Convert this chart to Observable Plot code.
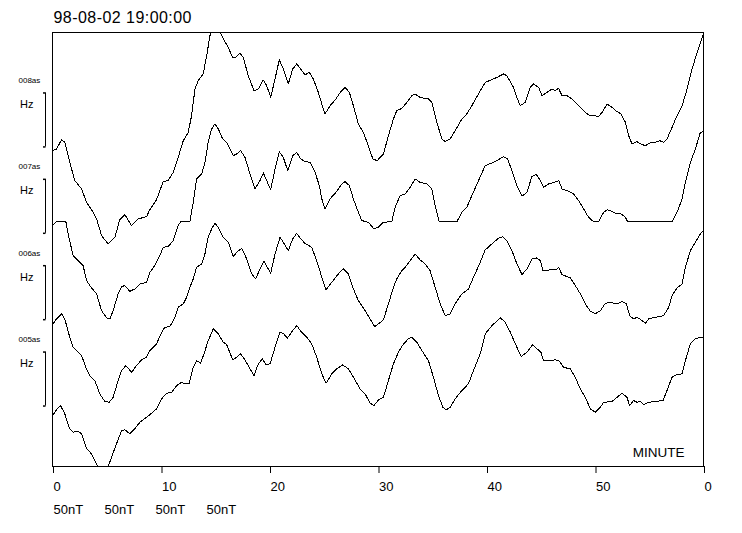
<!DOCTYPE html>
<html><head><meta charset="utf-8">
<script src="https://cdn.jsdelivr.net/npm/d3@7"></script>
<script src="https://cdn.jsdelivr.net/npm/@observablehq/plot@0.6"></script>
<style>body{margin:0;background:#fff}</style>
</head><body><div id="chart"></div>
<script>
const title = "98-08-02 19:00:00";
const stationCodes = ["008as", "007as", "006as", "005as"];
const stationOffsets = [240, 160, 80, 0]; // nT baseline of each trace
const unitLabel = "Hz";
const scaleBarNT = 50;
const scaleLabels = ["50nT", "50nT", "50nT", "50nT"];
const xTicks = [0, 10, 20, 30, 40, 50, 60];
const xLabel = "MINUTE";

// [minute, nT deviation from station baseline]
const st008 = [[0,-3.4],[0.37,-1.9],[0.83,6.5],[1.13,4.3],[1.59,-14.3],[2.06,-31.2],[2.68,-38.9],[3.14,-51.3],[3.6,-58.1],[4.06,-66.4],[4.52,-82.1],[5.13,-90],[5.75,-83.7],[6.2,-67.3],[6.67,-62.7],[7.29,-72.9],[7.9,-66.7],[8.67,-64.5],[8.97,-58.1],[9.59,-48.8],[10.2,-32.1],[10.66,-31.2],[11.13,-23.5],[11.59,-9.6],[12.05,5.8],[12.51,13.5],[12.82,29],[13.13,53.7],[13.43,61.4],[13.89,67.6],[14.21,84.5],[14.51,103],[14.72,108],[15.07,113],[15.43,107],[15.74,100],[16.2,92.2],[16.61,82.4],[16.97,83.6],[17.28,87],[17.58,83],[18.04,66],[18.57,52.1],[18.97,53.7],[19.43,62],[19.74,56.8],[20.11,45.9],[20.51,63],[20.9,80.6],[21.27,72.2],[21.73,58.3],[22.14,72.2],[22.51,76.9],[22.88,72.2],[23.27,66.7],[23.67,69.1],[24.04,63],[24.5,50.6],[24.82,39.8],[25.12,30.6],[25.58,38.2],[26.08,43.8],[26.52,50.6],[26.96,55.2],[27.36,50.6],[27.73,38.2],[28.19,21.3],[28.65,13.5],[29.11,1.2],[29.52,-11.1],[29.92,-12.7],[30.5,-6.5],[30.96,10.5],[31.42,25.9],[31.73,33.6],[32.2,35.7],[32.66,41.3],[33.12,47.5],[33.42,49.1],[33.88,45.9],[34.65,44.4],[34.96,41.3],[35.42,22.8],[35.89,7.4],[36.19,4.9],[36.65,7.4],[37.11,15.1],[37.73,25.9],[38.19,30.6],[38.65,38.2],[39.26,49.1],[39.88,59.8],[40.5,62.3],[40.96,64.4],[41.57,67.6],[41.88,66],[42.49,55.2],[42.8,45.9],[43.11,38.2],[43.57,41.3],[44.03,55.2],[44.34,58.3],[44.8,55.2],[45.11,47.5],[45.57,50.6],[46.03,53.7],[46.33,52.1],[46.64,54.3],[46.96,47.5],[47.42,47.5],[47.88,44.4],[48.49,38.2],[48.95,33.6],[49.41,29.6],[49.87,29],[50.33,28.3],[50.65,32],[51.11,39.8],[51.57,36.7],[52.03,32.7],[52.4,30.6],[52.8,22.8],[53.1,10.5],[53.41,2.8],[53.87,4.9],[54.18,2.8],[54.64,1.2],[55.1,3.7],[55.56,4.3],[55.96,5.8],[56.33,4.3],[56.64,7.4],[57.1,18.1],[57.56,29],[58.03,38.2],[58.49,53.7],[58.95,72.2],[59.41,87.6],[59.87,101.5],[60,104.9]];

const st007 = [[0,7.1],[0.37,10.8],[1.23,10.8],[1.44,-0.6],[1.9,-20.6],[2.36,-25.3],[2.82,-29.9],[3.14,-43.8],[3.6,-50.6],[4.06,-56.1],[4.52,-71.6],[4.98,-78.3],[5.29,-79.3],[5.59,-71.6],[6.05,-56.1],[6.37,-49.4],[6.67,-48.4],[7.13,-53.7],[7.59,-51.5],[8.05,-46.9],[8.67,-45.4],[8.97,-36.1],[9.43,-29.9],[9.9,-20.6],[10.2,-13],[10.66,-12.3],[11.13,-6.8],[11.59,7.1],[11.81,10.8],[12.67,10.8],[12.97,28.7],[13.28,50.4],[13.75,55],[14.05,65.7],[14.35,84.3],[14.67,96.7],[14.97,101.3],[15.28,96.7],[15.68,87.4],[16.05,84.3],[16.66,71.9],[16.97,73.5],[17.34,76.6],[17.74,70.4],[18.2,55],[18.66,41.1],[19.12,48.8],[19.43,55.9],[19.74,48.8],[20.11,40.5],[20.51,59.6],[20.9,75.6],[21.27,70.4],[21.68,58.1],[22.14,71.9],[22.51,75],[22.88,68.9],[23.27,66.4],[23.74,65.7],[24.2,56.5],[24.59,44.2],[24.82,31.9],[25.12,22.6],[25.58,31.9],[26.13,38],[26.66,45.7],[26.96,47.9],[27.36,44.2],[27.73,31.9],[28.19,19.4],[28.51,11.8],[29.11,10.2],[29.63,4.1],[30.04,5.6],[30.5,10.2],[31.27,10.8],[31.58,24.1],[32.04,34.9],[32.5,36.5],[32.96,42.6],[33.42,50.4],[33.88,47.2],[34.5,45.7],[34.96,41.1],[35.27,25.6],[35.64,10.8],[37.27,10.8],[37.73,19.4],[38.19,24.1],[38.65,34.9],[39.26,48.8],[39.88,62.7],[40.5,65.2],[41.11,68.2],[41.57,71],[41.94,68.9],[42.34,58.1],[42.8,44.2],[43.27,34.3],[43.73,38],[44.19,52.8],[44.59,54.6],[44.96,48.8],[45.27,42.6],[45.73,45.7],[46.19,47.2],[46.66,48.8],[46.97,41.1],[47.42,39.5],[48.03,36.5],[48.49,30.3],[48.95,22.6],[49.41,14.8],[49.87,10.8],[50.33,10.8],[50.79,19.4],[51.16,21.9],[51.57,20.1],[52.03,18],[52.4,18],[52.8,14.8],[53.01,10.8],[57.1,10.8],[57.56,19.4],[58.03,31.9],[58.33,47.2],[58.79,65.7],[59.25,78.1],[59.71,93.5],[60,94.2]];

const st006 = [[0,-4.5],[0.37,0.7],[0.83,5.4],[1.13,0.7],[1.59,-16.3],[1.9,-25.6],[2.36,-30.2],[2.68,-33.2],[3.07,-44.1],[3.44,-51.8],[3.9,-56.4],[4.36,-68.7],[4.82,-75.8],[5.22,-76.5],[5.59,-71.9],[6.05,-56.4],[6.37,-47.1],[6.76,-42.5],[7.29,-48.7],[7.75,-42.5],[8.21,-37.2],[8.67,-34.8],[8.97,-28.6],[9.59,-22.4],[10.06,-11.7],[10.36,-7],[10.82,-6.4],[11.29,2.2],[11.59,11.5],[12.05,14.6],[12.36,20.7],[12.67,30],[12.97,37.8],[13.28,48.5],[13.75,51.7],[14.05,60.9],[14.35,76.3],[14.67,84.1],[14.97,89.3],[15.28,85.6],[15.74,76.3],[16.2,71.7],[16.66,58.4],[16.97,62.4],[17.44,66.1],[17.9,56.3],[18.36,42.4],[18.73,37.8],[19.12,47],[19.49,54.1],[19.8,48.5],[20.11,43],[20.51,60.9],[20.97,76.3],[21.27,71.7],[21.73,64],[22.14,74.8],[22.51,80],[22.88,74.8],[23.27,70.7],[23.89,67],[24.35,54.7],[24.82,39.3],[25.21,27.6],[25.74,34.6],[26.35,42.4],[26.81,47],[27.27,42.4],[27.73,28.5],[28.19,17.7],[28.81,8.4],[29.27,0.7],[29.69,-6.4],[30.04,-3.9],[30.5,-0.2],[30.96,14.6],[31.42,30],[31.73,37.8],[32.2,45.5],[32.5,48.5],[32.96,54.7],[33.42,60.9],[33.88,55.4],[34.34,51.7],[34.8,45.5],[35.27,30],[35.73,14.6],[36.19,3.8],[36.65,5.4],[37.11,14.6],[37.73,23.9],[38.34,28.5],[38.8,39.3],[39.42,53.1],[39.88,64.6],[40.5,70.2],[41.11,75.4],[41.51,76.9],[41.88,73.2],[42.34,64],[42.8,51.7],[43.27,41.8],[43.73,47],[44.19,56.3],[44.59,57.2],[44.96,54.7],[45.2,45.5],[45.57,45.5],[46.03,47],[46.43,46.1],[46.64,48.5],[46.96,41.8],[47.42,39.9],[47.73,38.7],[48.19,31.6],[48.65,23.9],[49.11,14.6],[49.57,7.8],[50.03,5.4],[50.5,8.4],[50.96,15.2],[51.42,16.1],[52.03,14.6],[52.49,17],[52.89,14.6],[53.19,3.8],[53.56,0.7],[53.87,2.2],[54.34,-0.8],[54.64,-3.3],[54.95,0.7],[55.56,2.2],[56.33,3.8],[56.79,11.5],[57.1,22.3],[57.56,29.4],[58.03,33.1],[58.33,48.5],[58.79,64],[59.25,71.7],[59.71,79.4],[60,82.5]];

const st005 = [[0,-8.8],[0.37,-3.5],[0.74,0.5],[1.13,-7.2],[1.59,-21.1],[1.9,-24.3],[2.36,-23.3],[2.68,-25.7],[3.14,-39.6],[3.6,-44.3],[4.06,-53.5],[4.3,-58],[4.7,-63],[5.05,-58.5],[5.44,-47.4],[5.9,-35],[6.37,-22.7],[6.67,-22],[7.13,-25.7],[7.59,-21.1],[8.05,-15],[8.67,-10.4],[9.13,-6.7],[9.59,-2.6],[10.06,6.7],[10.52,11.9],[10.98,12.8],[11.44,19],[11.9,22],[12.2,20.6],[12.6,21.1],[12.97,35.9],[13.28,42.1],[13.65,39.6],[13.96,48.3],[14.35,60.6],[14.82,71.5],[15.28,66.9],[15.74,59.1],[16.05,56.9],[16.61,42.8],[16.97,45.2],[17.34,48.3],[17.74,42.8],[18.2,34.4],[18.57,28.2],[18.97,39.1],[19.34,43.7],[19.68,38.4],[20.05,39.1],[20.51,54.4],[20.97,68.3],[21.27,67.4],[21.64,62.8],[22.14,69.9],[22.51,74.5],[22.97,68.3],[23.43,63.7],[23.89,57.6],[24.35,45.2],[24.82,29.8],[25.21,21.1],[25.74,29.8],[26.2,34.4],[26.75,38.1],[27.27,34.4],[27.73,26.7],[28.35,15.9],[28.81,11.3],[29.27,2.8],[29.63,0.5],[30.04,5.7],[30.5,8.1],[30.96,23.6],[31.42,39.1],[31.88,49.8],[32.35,57.6],[32.8,62.2],[33.12,63.7],[33.58,59.1],[34.04,51.4],[34.65,42.1],[35.11,26.7],[35.57,9.7],[35.98,-1.1],[36.28,-3.5],[36.65,-1.1],[37.11,6.7],[37.73,14.4],[38.34,20.6],[38.8,32.9],[39.42,48.3],[39.88,66.9],[40.5,74.5],[41.27,81.7],[41.73,77.6],[42.2,68.3],[42.66,57.6],[43.19,45.8],[43.73,49.8],[44.24,56.7],[44.65,53],[45.02,49.8],[45.26,42.1],[45.72,42.1],[46.34,42.8],[46.73,41.5],[47.1,35.9],[47.72,34.4],[48.18,26.7],[48.64,15.9],[49.11,8.1],[49.57,-2.6],[50.03,-5.7],[50.5,-1.1],[50.8,3.5],[51.57,4.2],[52.03,8.1],[52.49,11.9],[52.95,8.1],[53.19,0.5],[53.56,5.1],[53.87,3.5],[54.18,4.2],[54.49,1.4],[54.95,3.5],[55.72,4.4],[56.27,5.1],[56.64,14.4],[57.1,26.7],[57.56,29.2],[58.03,29.8],[58.33,42.1],[58.79,57.6],[59.25,62.2],[59.71,63.7],[60,63.7]];

const series = [st008, st007, st006, st005];
const rows = series.flatMap((s, k) => s.map(([m, v]) => ({station: stationCodes[k], minute: m, value: v + stationOffsets[k]})));
const bars = stationCodes.map((c, k) => ({code: c, unit: unitLabel, y1: stationOffsets[k], y2: stationOffsets[k] + scaleBarNT}));
const barEnds = bars.flatMap(b => [{y: b.y1}, {y: b.y2}]);
const serif = {draw(ctx) { ctx.moveTo(-2.5, 0); ctx.lineTo(0, 0); }};
const font = "'Liberation Sans', Arial, Helvetica, sans-serif";

const marks = [
  Plot.frame({stroke: "black", strokeWidth: 1}),
  Plot.line(rows, {x: "minute", y: "value", z: "station", stroke: "black", strokeWidth: 1, clip: true, shapeRendering: "crispEdges"}),
  Plot.axisX(xTicks, {tickSize: 7, tickPadding: 8, textAnchor: "start", dx: 1, fontSize: 13, label: null, tickFormat: d => String(d % 60)}),
  Plot.ruleX(bars, {x: 0, y1: "y1", y2: "y2", dx: -7, stroke: "black", strokeWidth: 1}),
  Plot.dot(barEnds, {x: 0, y: "y", dx: -7, symbol: serif, stroke: "black", fill: "none", r: 3}),
  Plot.text(bars, {x: 0, y: "y2", text: "code", dx: -34, dy: -10, textAnchor: "start", lineAnchor: "bottom", fontSize: 8}),
  Plot.text(bars, {x: 0, y: "y2", text: "unit", dx: -32.5, dy: 15, textAnchor: "start", lineAnchor: "bottom", fontSize: 11}),
  Plot.text([title], {frameAnchor: "top-left", textAnchor: "start", lineAnchor: "bottom", dx: 1, dy: -9.3, fontSize: 16}),
  Plot.text([xLabel], {frameAnchor: "bottom-right", textAnchor: "end", lineAnchor: "bottom", dx: -19, dy: -9.3, fontSize: 13.5}),
  ...scaleLabels.map((s, i) => Plot.text([s], {frameAnchor: "bottom-left", textAnchor: "start", lineAnchor: "bottom", dx: 1 + i * 51, dy: 47.3, fontSize: 13}))
];

const chart = Plot.plot({
  width: 742,
  height: 533,
  marginTop: 32,
  marginLeft: 52,
  marginRight: 39,
  marginBottom: 67,
  x: {domain: [0, 60], axis: null},
  y: {domain: [-56, 346], axis: null},
  style: {fontFamily: font, fontSize: "13px", color: "black", background: "white", overflow: "visible"},
  marks
});
chart.querySelectorAll("text").forEach(t => { if (t.textContent === title) t.style.letterSpacing = "0.45px"; });
document.getElementById("chart").appendChild(chart);
</script>
</body></html>
